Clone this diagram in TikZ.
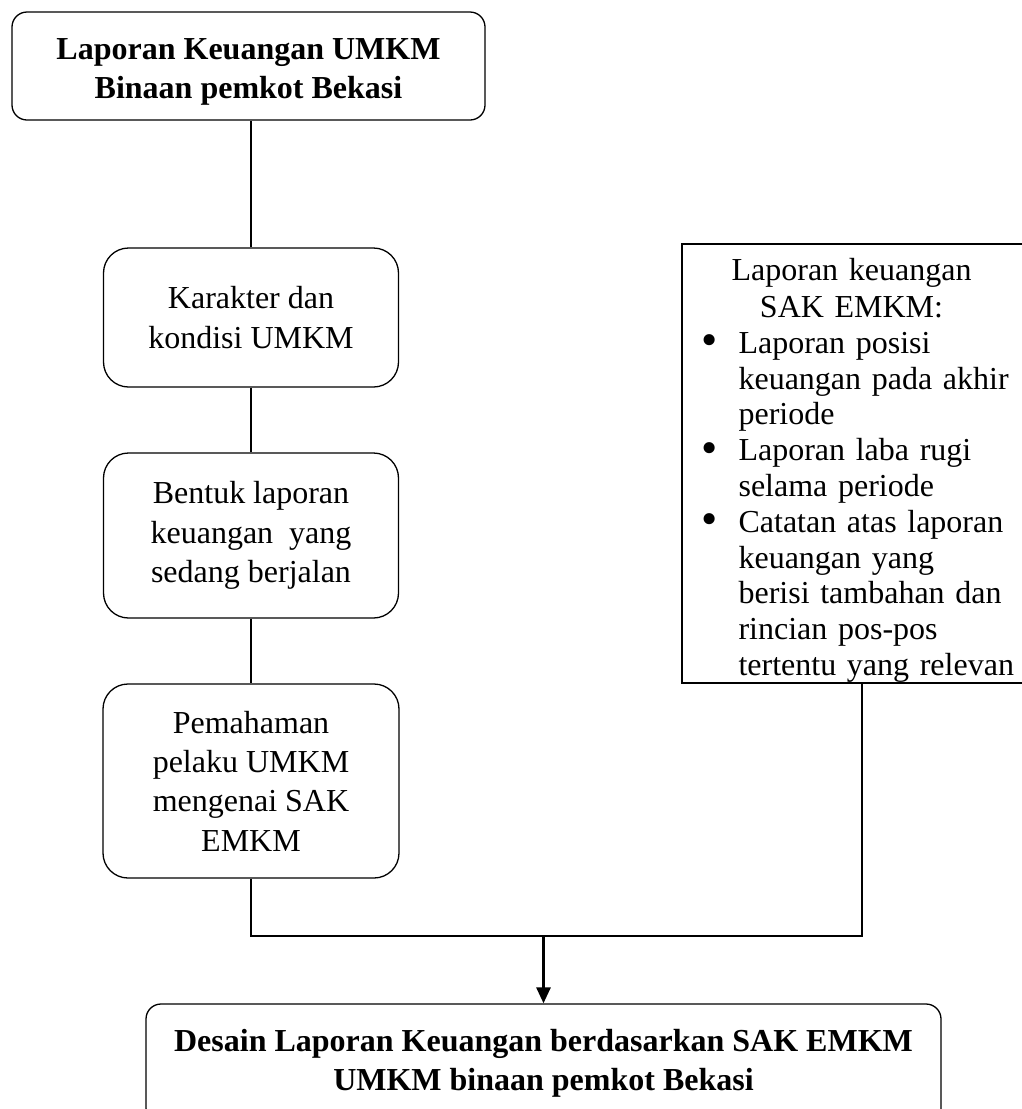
\documentclass[tikz,border=0pt]{standalone}
\usepackage{fontspec}
\setmainfont{Liberation Serif}
\usepackage{tikz}
\usetikzlibrary{arrows.meta}

\newcommand{\sakbullet}{\makebox[37pt][l]{\raisebox{-0.08em}{\scalebox{1.45}{\textbullet}}}}
\newcommand{\sakindent}{\hspace*{37pt}}

\begin{document}
\begin{tikzpicture}[x=1pt,y=-1pt,
		every node/.style={font=\fontsize{32}{39.3}\selectfont},
		box/.style={draw,line width=1.3pt,rounded corners=25pt,align=center,inner sep=0pt},
		boldbox/.style={box,rounded corners=15pt,font=\fontsize{32}{39}\selectfont\bfseries},
		link/.style={line width=1.5pt},
		arrow/.style={line width=2.8pt,-{Triangle[width=14pt,length=16pt]}}]
			\useasboundingbox (0,0) rectangle (1021,1109);
			\node[boldbox,minimum width=473pt,minimum height=108pt,text height=71pt,text depth=7pt] (laporan) at (248.5,66) {Laporan Keuangan UMKM\\Binaan pemkot Bekasi};
			\node[box,minimum width=295pt,minimum height=139pt] (karakter) at (251,317.5) {Karakter dan\\kondisi UMKM};
			\node[box,minimum width=295pt,minimum height=165pt] (bentuk) at (251,535.5) {Bentuk laporan\\keuangan\ \ yang\\sedang berjalan};
			\node[box,minimum width=296pt,minimum height=194pt] (paham) at (251,781) {Pemahaman\\pelaku UMKM\\mengenai SAK\\EMKM};
			\node[draw,line width=1.3pt,minimum width=360pt,minimum height=439pt] (sak) at (862,463.5) {};
			\node[anchor=north west,align=left,text width=320pt,inner sep=0pt,font=\fontsize{32}{35.8}\selectfont] (saklist) at ([xshift=20pt,yshift=-15pt]sak.north west) {%
				\makebox[300pt]{Laporan keuangan}\\[1pt]
				\makebox[300pt]{SAK EMKM:}\\
				\sakbullet Laporan posisi\\
				\sakindent keuangan pada akhir\\
				\sakindent periode\\
				\sakbullet Laporan laba rugi\\
				\sakindent selama periode\\
				\sakbullet Catatan atas laporan\\
				\sakindent keuangan yang\\
				\sakindent berisi tambahan dan\\
				\sakindent rincian pos-pos\\
				\sakindent tertentu yang relevan};
			\node[boldbox,minimum width=795pt,minimum height=119pt] (desain) at (543.5,1063.5) {Desain Laporan Keuangan berdasarkan SAK EMKM\\UMKM binaan pemkot Bekasi};
			\coordinate (gabung) at (desain.north |- 0,936);
			\draw[link] (karakter.north) -- (karakter.north |- laporan.south);
			\draw[link] (karakter.south) -- (bentuk.north);
			\draw[link] (bentuk.south) -- (paham.north);
			\draw[link] (paham.south) |- (gabung);
			\draw[link] (sak.south) |- (gabung);
			\draw[arrow] (gabung) -- (desain.north);
		\end{tikzpicture}
\end{document}
